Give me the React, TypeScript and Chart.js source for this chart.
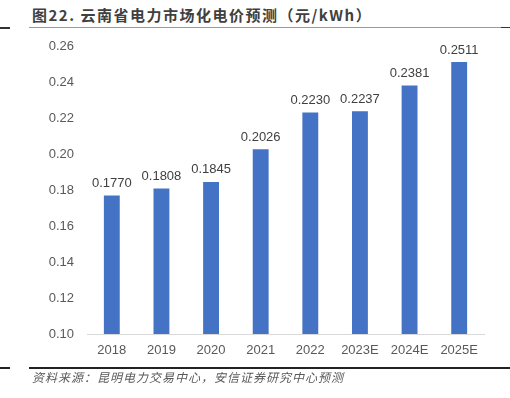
import React, { useEffect, useRef } from "react";
import { Chart, registerables } from "chart.js";

Chart.register(...registerables);

const categories = ["2018", "2019", "2020", "2021", "2022", "2023E", "2024E", "2025E"];
const prices = [0.177, 0.1808, 0.1845, 0.2026, 0.223, 0.2237, 0.2381, 0.2511];
const yMin = 0.1;
const yMax = 0.26;
const yStep = 0.02;

const FONT = "'Liberation Sans', Arial, Helvetica, sans-serif";

const labelPlugin = {
  id: "barLabels",
  afterDatasetsDraw(chart: any) {
    const ctx = chart.ctx;
    const meta = chart.getDatasetMeta(0);
    ctx.save();
    ctx.font = `13px ${FONT}`;
    ctx.fillStyle = "#404040";
    ctx.textAlign = "center";
    ctx.textBaseline = "alphabetic";
    meta.data.forEach((bar: any, i: number) => {
      ctx.fillText(prices[i].toFixed(4), bar.x, bar.y - 8.5);
    });
    ctx.restore();
  },
};

export default function App() {
  const ref = useRef<HTMLCanvasElement>(null);
  useEffect(() => {
    if (!ref.current) return;
    const chart = new Chart(ref.current, {
      type: "bar",
      data: {
        labels: categories,
        datasets: [
          {
            data: prices,
            backgroundColor: "#4472C4",
            borderWidth: 0,
            barPercentage: 0.32,
            categoryPercentage: 1,
          },
        ],
      },
      options: {
        animation: false,
        responsive: false,
        maintainAspectRatio: false,
        layout: { padding: { left: 0, right: 26, top: 46, bottom: 0 } },
        plugins: { legend: { display: false }, tooltip: { enabled: false } },
        scales: {
          x: {
            grid: { display: false, drawTicks: false },
            border: { display: true, color: "#D9D9D9", width: 1 },
            ticks: { color: "#595959", font: { size: 13, family: FONT }, padding: 9, maxRotation: 0 },
            afterFit: (s: any) => {
              s.height = 64;
            },
          },
          y: {
            min: yMin,
            max: yMax,
            grid: { display: false, drawTicks: false },
            border: { display: false },
            ticks: {
              stepSize: yStep,
              color: "#595959",
              font: { size: 13, family: FONT },
              padding: 13,
              callback: (v: any) => Number(v).toFixed(2),
            },
            afterFit: (s: any) => {
              s.width = 87;
            },
          },
        },
      },
      plugins: [labelPlugin],
    });
    return () => chart.destroy();
  }, []);

  return (
    <div style={{ position: "absolute", left: 0, top: 0, width: 510, height: 398, background: "#fff", overflow: "hidden" }}>
      <div
        style={{
          position: "absolute",
          left: 32,
          top: 6,
          fontFamily: "'Noto Sans CJK SC', sans-serif",
          fontSize: 15,
          fontWeight: 700,
          color: "#404040",
          letterSpacing: 1.5,
          whiteSpace: "nowrap",
          lineHeight: "18px",
        }}
      >
        图22. 云南省电力市场化电价预测（元/kWh）
      </div>
      <div style={{ position: "absolute", left: 0, top: 27, width: 10, height: 1.5, background: "#333" }} />
      <div style={{ position: "absolute", left: 29, top: 27, width: 472, height: 1, background: "#999" }} />
      <div style={{ position: "absolute", left: 501, top: 26.5, width: 9, height: 1.5, background: "#333" }} />
      <canvas ref={ref} width={510} height={398} style={{ position: "absolute", left: 0, top: 0, width: 510, height: 398 }} />
      <div style={{ position: "absolute", left: 0, top: 367, width: 10, height: 1.5, background: "#222" }} />
      <div style={{ position: "absolute", left: 29, top: 367, width: 481, height: 1.5, background: "#222" }} />
      <div
        style={{
          position: "absolute",
          left: 32,
          top: 369,
          fontFamily: "'Noto Sans CJK SC', sans-serif",
          fontSize: 12,
          fontStyle: "italic",
          color: "#595959",
          letterSpacing: 1,
          whiteSpace: "nowrap",
          lineHeight: "16px",
        }}
      >
        资料来源：昆明电力交易中心，安信证券研究中心预测
      </div>
    </div>
  );
}
